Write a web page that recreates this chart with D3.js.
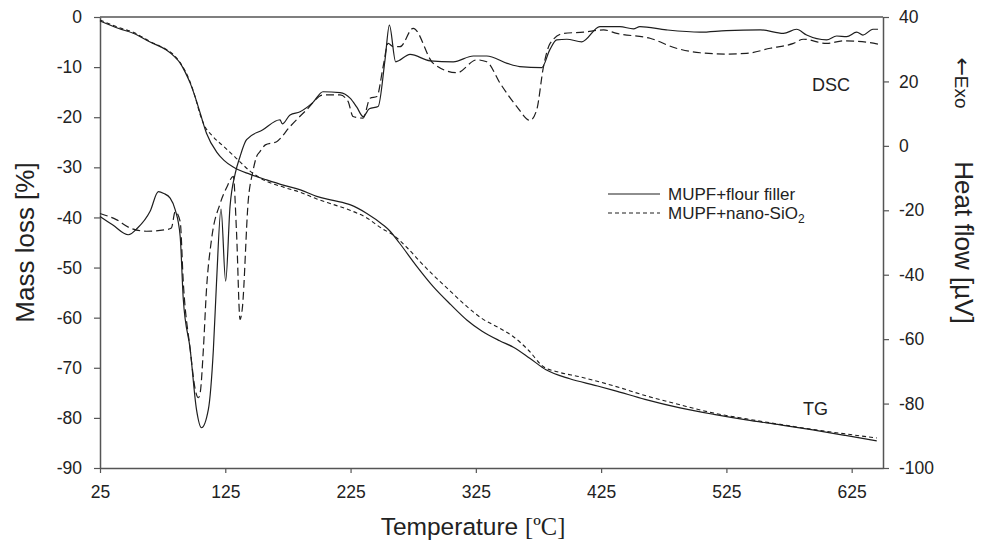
<!DOCTYPE html>
<html>
<head>
<meta charset="utf-8">
<script src="https://cdn.jsdelivr.net/npm/d3@7"></script>
<style>
  body { margin: 0; background: #fff; }
  svg { display: block; font-family: Arial, "Liberation Sans", sans-serif; }
</style>
</head>
<body>
<script>
// data: [temperature, value]
var tgFlour = [[25,-0.8],[40,-2.3],[52,-3.3],[65,-5],[78,-6.6],[84,-7.8],[89,-9.2],[93,-11],[97,-13.2],[101,-16],[105,-19.2],[110,-23.2],[118,-26.9],[124,-28.6],[131,-29.9],[145,-31.4],[158,-32.5],[172,-33.6],[185,-34.5],[198,-35.8],[211,-36.6],[225,-37.5],[238,-39.2],[251,-41.5],[256,-42.6],[264,-45.1],[278,-49.8],[291,-53.8],[305,-57.4],[318,-60.5],[330,-62.7],[344,-64.6],[355,-65.9],[368,-68.1],[381,-70.4],[400,-72.2],[420,-73.5],[435,-74.5],[460,-76.3],[488,-78],[515,-79.3],[541,-80.4],[568,-81.4],[594,-82.4],[620,-83.5],[645,-84.6]];

var tgSilica = [[25,-0.6],[40,-2.1],[52,-3.1],[65,-4.9],[78,-6.5],[84,-7.6],[89,-9.1],[93,-10.8],[97,-13],[101,-16],[105,-19.5],[108,-21.5],[115,-23.8],[124,-25.9],[133,-28],[145,-30.8],[158,-32.8],[172,-34],[185,-35],[198,-36.3],[211,-37.4],[225,-38.6],[238,-40.1],[250,-42.2],[259,-43.5],[270,-46],[280,-48.7],[291,-51.5],[305,-54.8],[318,-57.8],[330,-60.2],[344,-62.1],[355,-63.8],[367,-66.5],[379,-69.8],[390,-70.8],[408,-71.8],[435,-73.6],[461,-75.6],[488,-77.4],[514,-79],[541,-80.2],[568,-81.3],[594,-82.3],[620,-83.2],[645,-84]];

var dscFlour = [[25,-21.9],[35,-24.5],[47.6,-27.6],[55,-25.5],[65,-20.3],[71.6,-14.2],[76,-14.8],[81,-16.2],[85,-19.8],[89,-28.1],[91.5,-47.7],[97,-63.2],[102,-81.8],[106,-87.5],[111.5,-81.8],[115.5,-63.2],[118,-42.5],[121.6,-19.6],[125.3,-42],[128.8,-18.8],[133,-8.5],[136.8,-3.3],[142,1.9],[155,5],[168.7,8.1],[170.5,6.8],[176.7,9.6],[184.7,10.6],[195,13.5],[203,16.8],[216.6,16.5],[224.6,14.8],[230,12],[235,9.1],[240,11.5],[247,12.2],[252.5,26.7],[256,37.5],[261,26.1],[272.5,28.4],[288.5,26.4],[307,26.1],[323,27.9],[333.7,27.9],[350,25.6],[360,24.6],[377.6,24.3],[384,29.8],[389.6,32.9],[397.6,33.1],[409.6,32.3],[424,37],[440,37],[450.8,36.3],[456,37],[477,36],[504,35.3],[525,35.8],[552,36],[570.5,34.9],[581,36.2],[589,34.4],[605,32.9],[613,34.1],[621,33.9],[629,35.3],[634,34.4],[642,36.2],[646,36.2]];

var dscSilica = [[25,-21],[38,-22.9],[49,-25.5],[62,-26.5],[78,-26],[82,-25.5],[85,-20.4],[89,-23.5],[91.5,-42.5],[97,-63.2],[101,-75.6],[103.5,-78.2],[105,-76.6],[107.5,-63.2],[110,-44.6],[114,-29.1],[121,-17.8],[126,-13],[131.4,-9.5],[134,-27],[136.8,-53.9],[138.5,-50.8],[143.4,-16.7],[147,-8],[150,-3.3],[152.7,-1.8],[157,0.3],[166,1.3],[176.7,6],[190,11.2],[203,15.8],[216.6,15.8],[223,13.8],[227,9.1],[235,8.6],[240.6,14.8],[246,15.3],[251,24.6],[255,31.8],[259,30.8],[264.5,30.8],[275,36.5],[291,25.6],[310,22.7],[325.7,26.7],[333.7,26.1],[344.4,19.4],[357.7,12.2],[368.3,7.9],[373.6,11.2],[379,24.6],[384.3,31.8],[395,34.9],[411,35.3],[427,36],[437.5,34.9],[464,33.4],[485,30.3],[504,28.9],[525,28.5],[541,28.7],[560,30.3],[578.5,31.8],[586.5,33.1],[605,31.8],[618.5,32.6],[637,32.2],[646,31.6]];

var xTicks = [25, 125, 225, 325, 425, 525, 625];
var leftTicks = [0, -10, -20, -30, -40, -50, -60, -70, -80, -90];
var rightTicks = [40, 20, 0, -20, -40, -60, -80, -100];

var width = 987, height = 540;
var plotLeft = 100, plotRight = 883, plotTop = 17, plotBottom = 468;
var axisColor = "#555";
var lineColor = "#1e1e1e";

var svg = d3.select("body")
   .append("svg")
   .attr("width", width)
   .attr("height", height);

var x = d3.scaleLinear().domain([25, 650]).range([plotLeft, plotRight]);
var yL = d3.scaleLinear().domain([-90, 0]).range([plotBottom, plotTop]);
var yR = d3.scaleLinear().domain([-100, 40]).range([plotBottom, plotTop]);

// plain hyphen minus like the original
var fmt = function(d) { return String(d) };

// top border
svg.append("line")
   .attr("x1", plotLeft).attr("x2", plotRight)
   .attr("y1", plotTop).attr("y2", plotTop)
   .style("stroke", axisColor)
   .style("stroke-width", 1.5);

function styleAxis(g) {
   g.select(".domain").style("stroke", axisColor).style("stroke-width", 1.5);
   g.selectAll(".tick line").style("stroke", axisColor).style("stroke-width", 1.2);
   g.selectAll(".tick text")
      .style("font-size", "17.5px")
      .style("fill", "#222")
      .style("font-family", "Arial, 'Liberation Sans', sans-serif");
}

svg.append("g")
   .attr("transform", "translate(0," + plotBottom + ")")
   .call(d3.axisBottom(x).tickValues(xTicks).tickFormat(fmt).tickSize(5).tickSizeOuter(0).tickPadding(13))
   .call(styleAxis);

svg.append("g")
   .attr("transform", "translate(" + plotLeft + ",0)")
   .call(d3.axisLeft(yL).tickValues(leftTicks).tickFormat(fmt).tickSize(6).tickSizeOuter(0).tickPadding(12))
   .call(styleAxis);

svg.append("g")
   .attr("transform", "translate(" + plotRight + ",0)")
   .call(d3.axisRight(yR).tickValues(rightTicks).tickFormat(fmt).tickSize(6).tickSizeOuter(0).tickPadding(10))
   .call(styleAxis);

var lineL = d3.line()
   .x(function(d) { return x(d[0]) })
   .y(function(d) { return yL(d[1]) })
   .curve(d3.curveMonotoneX);

var lineR = d3.line()
   .x(function(d) { return x(d[0]) })
   .y(function(d) { return yR(d[1]) })
   .curve(d3.curveMonotoneX);

svg.append("path")
   .attr("d", lineR(dscSilica))
   .style("fill", "none")
   .style("stroke", lineColor)
   .style("stroke-width", 1.2)
   .style("stroke-dasharray", "8,4");

svg.append("path")
   .attr("d", lineR(dscFlour))
   .style("fill", "none")
   .style("stroke", lineColor)
   .style("stroke-width", 1.2);

svg.append("path")
   .attr("d", lineL(tgSilica))
   .style("fill", "none")
   .style("stroke", lineColor)
   .style("stroke-width", 1.1)
   .style("stroke-dasharray", "4,3");

svg.append("path")
   .attr("d", lineL(tgFlour))
   .style("fill", "none")
   .style("stroke", lineColor)
   .style("stroke-width", 1.2);

// curve labels
svg.append("text")
   .attr("x", 812).attr("y", 91)
   .style("font-size", "18px").style("fill", "#222")
   .text("DSC");

svg.append("text")
   .attr("x", 803).attr("y", 415)
   .style("font-size", "18px").style("fill", "#222")
   .text("TG");

// legend
svg.append("line")
   .attr("x1", 608).attr("x2", 660).attr("y1", 194).attr("y2", 194)
   .style("stroke", lineColor).style("stroke-width", 1.2);
svg.append("text")
   .attr("x", 668).attr("y", 200)
   .style("font-size", "17px").style("fill", "#222")
   .text("MUPF+flour filler");

svg.append("line")
   .attr("x1", 608).attr("x2", 660).attr("y1", 213).attr("y2", 213)
   .style("stroke", lineColor).style("stroke-width", 1.1)
   .style("stroke-dasharray", "4,3");
var leg2 = svg.append("text")
   .attr("x", 668).attr("y", 219)
   .style("font-size", "17px").style("fill", "#222");
leg2.append("tspan").text("MUPF+nano-SiO");
leg2.append("tspan").attr("dy", 4).style("font-size", "12px").text("2");

// axis titles
var xt = svg.append("text")
   .attr("x", 473).attr("y", 535)
   .attr("text-anchor", "middle")
   .style("font-size", "24.5px").style("fill", "#222");
xt.append("tspan").text("Temperature ");
xt.append("tspan").style("font-family", "'Liberation Serif', 'DejaVu Serif', serif").text("[ºC]");

svg.append("text")
   .attr("transform", "translate(34," + ((plotTop + plotBottom) / 2) + ") rotate(-90)")
   .attr("text-anchor", "middle")
   .style("font-size", "26px").style("fill", "#222")
   .text("Mass loss [%]");

svg.append("text")
   .attr("transform", "translate(955," + ((plotTop + plotBottom) / 2) + ") rotate(90)")
   .attr("text-anchor", "middle")
   .style("font-size", "26px").style("fill", "#222")
   .text("Heat flow [µV]");

var exo = svg.append("text")
   .attr("transform", "translate(955,83) rotate(90)")
   .attr("text-anchor", "middle")
   .style("font-size", "19px").style("fill", "#222");
exo.append("tspan").style("font-size", "22px").style("font-family", "'DejaVu Sans', sans-serif").attr("dy", 0).text("←");
exo.append("tspan").text("Exo");
</script>
</body>
</html>
